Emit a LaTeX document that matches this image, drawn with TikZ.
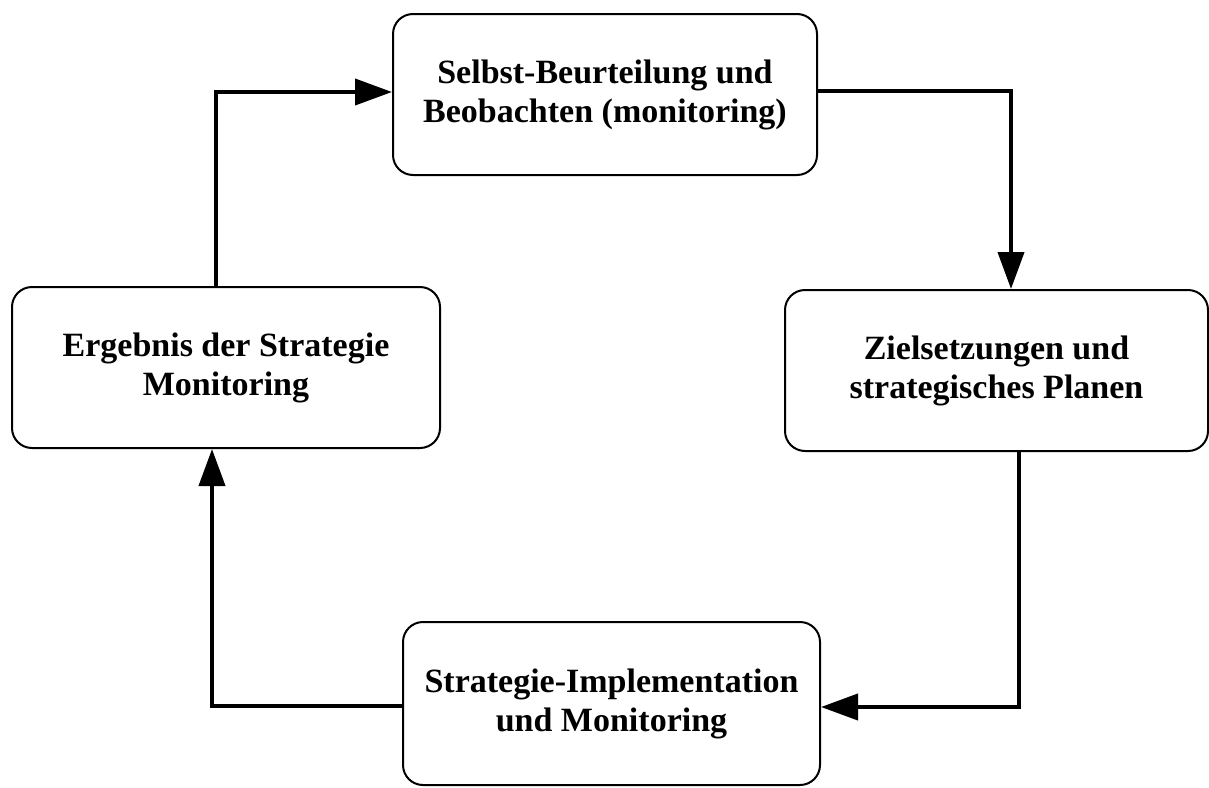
\documentclass[tikz,border=0pt]{standalone}
\usepackage{fontspec}
\setmainfont{Liberation Serif}
\usetikzlibrary{arrows.meta}
\begin{document}
\begin{tikzpicture}[x=1pt,y=-1pt,
  stagebox/.style={draw, line width=2pt, rounded corners=20pt, align=center,
    font=\fontsize{34}{39}\selectfont\bfseries, inner sep=0pt},
  conn/.style={line width=4pt, -{Triangle[length=37pt,width=26pt]}}]
\useasboundingbox[fill=white] (0,0) rectangle (1209,787);
\node[stagebox, minimum width=424pt, minimum height=161pt] (top) at (605,94.5)
  {Selbst-Beurteilung und\\Beobachten (monitoring)};
\node[stagebox, minimum width=428pt, minimum height=161pt] (left) at (226,367.5)
  {Ergebnis der Strategie\\Monitoring};
\node[stagebox, minimum width=423pt, minimum height=161pt] (right) at (996.5,370.5)
  {Zielsetzungen und\\strategisches Planen};
\node[stagebox, minimum width=417pt, minimum height=163pt] (bottom) at (611.5,703.5)
  {Strategie-Implementation\\und Monitoring};
\coordinate (c1) at (216,92);
\coordinate (c2) at (1011,91);
\coordinate (c3) at (1019,707);
\coordinate (c4) at (212,706);
\draw[conn] (left.north -| c1) -- (c1) -- (top.west |- c1);
\draw[conn] (top.east |- c2) -- (c2) -- (right.north -| c2);
\draw[conn] (right.south -| c3) -- (c3) -- (bottom.east |- c3);
\draw[conn] (bottom.west |- c4) -- (c4) -- (left.south -| c4);
\end{tikzpicture}
\end{document}
